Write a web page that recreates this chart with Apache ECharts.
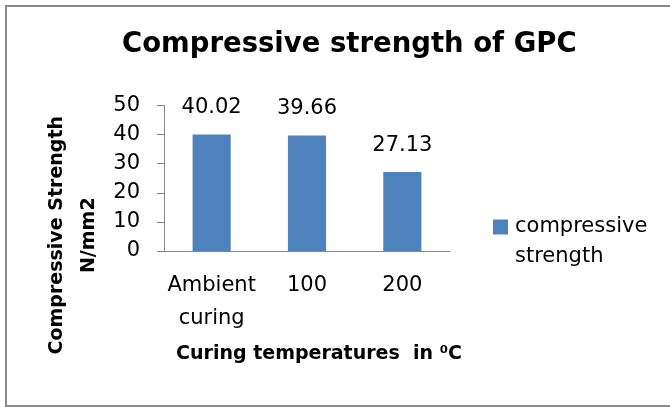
<!DOCTYPE html>
<html>
<head>
<meta charset="utf-8">
<script src="https://cdn.jsdelivr.net/npm/echarts@6/dist/echarts.min.js"></script>
<style>
  html, body { margin: 0; padding: 0; background: #fff; overflow: hidden; }
  #chart { width: 670px; height: 407px; }
</style>
</head>
<body>
<div id="chart"></div>
<script>
// curing regimes and measured strength (N/mm2)
var categories = ['Ambient\ncuring', '100', '200'];
var strength = [40.02, 39.66, 27.13];
var seriesName = 'compressive strength';

var font = 'DejaVu Sans';

var chart_option = {
    animation: false,
    backgroundColor: '#fff',
    textStyle: { fontFamily: font },
    title: {
        text: 'Compressive strength of GPC',
        left: 117,
        top: 26,
        textStyle: { fontFamily: font, fontSize: 27.5, fontWeight: 'bold', color: '#000' }
    },
    legend: {
        left: 493,
        top: 182,
        padding: 0,
        icon: 'rect',
        itemWidth: 15,
        itemHeight: 15,
        data: [seriesName],
        // empty first line so the marker sits next to "compressive"
        formatter: function () { return '\ncompressive\nstrength'; },
        textStyle: { fontFamily: font, fontSize: 21, color: '#000', lineHeight: 30, padding: [0, 0, 0, 2] }
    },
    grid: { left: 164, right: 220, top: 104, bottom: 156 },
    xAxis: {
        type: 'category',
        data: categories,
        name: 'Curing temperatures  in \u2070C',
        nameLocation: 'middle',
        nameGap: 94,
        nameTextStyle: { fontFamily: font, fontSize: 19, fontWeight: 'bold', color: '#000', padding: [0, 0, 0, 24] },
        axisLine: { lineStyle: { color: '#868686', width: 1 } },
        axisTick: { length: 6, lineStyle: { color: '#868686' } },
        axisLabel: { interval: 0, margin: 18, fontFamily: font, fontSize: 21, color: '#000', lineHeight: 33 }
    },
    yAxis: {
        type: 'value',
        min: 0,
        max: 50,
        interval: 10,
        name: 'Compressive Strength\nN/mm2',
        nameLocation: 'middle',
        nameGap: 59,
        nameRotate: 90,
        nameTextStyle: {
            fontFamily: font, fontSize: 19, fontWeight: 'bold', color: '#000',
            lineHeight: 32, padding: [0, 114, 0, 0]
        },
        splitLine: { show: false },
        axisLine: { show: true, lineStyle: { color: '#868686', width: 1 } },
        axisTick: { show: true, length: 7, lineStyle: { color: '#868686' } },
        axisLabel: { margin: 24, fontFamily: font, fontSize: 21, color: '#000' }
    },
    series: [
        {
            name: seriesName,
            type: 'bar',
            data: strength,
            barWidth: '40%',
            itemStyle: { color: '#4F81BD' },
            label: {
                show: true,
                position: 'top',
                distance: 16,
                fontFamily: font,
                fontSize: 21,
                color: '#000',
                formatter: function (p) { return p.value.toFixed(2); }
            }
        }
    ],
    graphic: [
        {
            // outer frame, open on the right like the cropped original
            type: 'polyline',
            shape: { points: [[670, 6], [6, 6], [6, 406], [670, 406]] },
            style: { fill: null, stroke: '#898989', lineWidth: 2 },
            silent: true
        }
    ]
};

var chart = echarts.init(document.getElementById('chart'));
chart.setOption(chart_option);
</script>
</body>
</html>
